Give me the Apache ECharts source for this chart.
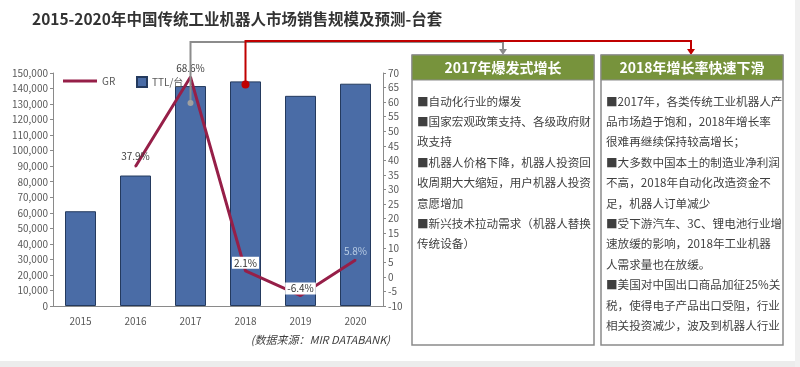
<!DOCTYPE html>
<html><head><meta charset="utf-8">
<script src="https://cdn.jsdelivr.net/npm/echarts@6/dist/echarts.min.js"></script>
<style>html,body{margin:0;padding:0;background:#fff;}#c{width:800px;height:367px;}</style>
</head><body><div id="c"></div>
<script>
const titleText = '2015-2020年中国传统工业机器人市场销售规模及预测-台套';
const years = ['2015','2016','2017','2018','2019','2020'];
const ttl = [61000, 84000, 141600, 144600, 135300, 143100];
const gr = [null, 37.9, 68.6, 2.1, -6.4, 5.8];
const grLabels = ['', '37.9%', '68.6%', '2.1%', '-6.4%', '5.8%'];
const box1Title = '2017年爆发式增长';
const box1Lines = [
  '■自动化行业的爆发',
  '■国家宏观政策支持、各级政府财',
  '政支持',
  '■机器人价格下降，机器人投资回',
  '收周期大大缩短，用户机器人投资',
  '意愿增加',
  '■新兴技术拉动需求（机器人替换',
  '传统设备）'
];
const box2Title = '2018年增长率快速下滑';
const box2Lines = [
  '■2017年，各类传统工业机器人产',
  '品市场趋于饱和，2018年增长率',
  '很难再继续保持较高增长；',
  '■大多数中国本土的制造业净利润',
  '不高，2018年自动化改造资金不',
  '足，机器人订单减少',
  '■受下游汽车、3C、锂电池行业增',
  '速放缓的影响，2018年工业机器',
  '人需求量也在放缓。',
  '■美国对中国出口商品加征25%关',
  '税，使得电子产品出口受阻，行业',
  '相关投资减少，波及到机器人行业'
];
const sourceText = '(数据来源：MIR DATABANK)';

const FONT = '"Noto Sans CJK SC", "Noto Sans", sans-serif';
const chart = echarts.init(document.getElementById('c'));

function box(x, w, title, lines) {
  return [
    {type:'rect', shape:{x:x, y:55, width:w, height:290}, style:{fill:'#fff', stroke:'#8a8a8a', lineWidth:1.5}, z:10},
    {type:'rect', shape:{x:x, y:55, width:w, height:25}, style:{fill:'#77933c', stroke:'#8a8a8a', lineWidth:1}, z:11},
    {type:'text', x:x + w/2, y:67.5, style:{text:title, fill:'#fff', font:'bold 14px ' + FONT, textAlign:'center', textVerticalAlign:'middle'}, z:12},
    {type:'text', x:x + 5, y:91, style:{text:lines.join('\n'), fill:'#3f3f3f', font:'11.6px ' + FONT, lineHeight:20.4, textVerticalAlign:'top'}, z:12}
  ];
}

const grData = gr.map((v, i) => {
  const d = {value:v};
  if (i === 1) d.label = {distance:4};
  if (i === 2) d.label = {distance:3};
  if (i === 3) d.label = {distance:1, backgroundColor:'#fff', padding:[1,2], color:'#333'};
  if (i === 4) d.label = {distance:0, backgroundColor:'#fff', padding:[1,2], color:'#333'};
  if (i === 5) d.label = {distance:3, color:'#b8cce4'};
  return d;
});

const option = {
  backgroundColor:'#fff',
  animation:false,
  textStyle:{fontFamily:FONT},
  title:{text:titleText, left:27, top:6, textStyle:{fontSize:15.5, fontWeight:'bold', color:'#333', fontFamily:FONT}},
  legend:[
    {data:['GR'], left:58, top:71, itemWidth:34, itemHeight:3, icon:'rect', itemGap:6, textStyle:{fontSize:10, color:'#595959'}},
    {data:['TTL/台'], left:131, top:71, itemWidth:10, itemHeight:10, icon:'rect', textStyle:{fontSize:10, color:'#595959'}}
  ],
  grid:{left:53, right:417, top:73, bottom:61},
  xAxis:{type:'category', data:years, axisLine:{lineStyle:{color:'#8a8a8a'}}, axisTick:{show:false},
    axisLabel:{fontSize:10, color:'#595959', margin:10}},
  yAxis:[
    {type:'value', min:0, max:150000, interval:10000, splitLine:{show:false},
      axisLine:{show:true, lineStyle:{color:'#8a8a8a'}}, axisTick:{show:true, length:3, lineStyle:{color:'#8a8a8a'}},
      axisLabel:{fontSize:10, color:'#595959', margin:5, formatter:v => v.toLocaleString('en-US')}},
    {type:'value', min:-10, max:70, interval:5, splitLine:{show:false}, position:'right',
      axisLine:{show:true, lineStyle:{color:'#8a8a8a'}}, axisTick:{show:true, length:3, lineStyle:{color:'#8a8a8a'}},
      axisLabel:{fontSize:10, color:'#595959', margin:5}}
  ],
  series:[
    {name:'TTL/台', type:'bar', data:ttl, barWidth:31, yAxisIndex:0,
      itemStyle:{color:'#4a6ca6', borderColor:'#243a5e', borderWidth:1}, z:2},
    {name:'GR', type:'line', yAxisIndex:1, data:grData, symbol:'circle', symbolSize:2, showSymbol:true,
      lineStyle:{color:'#961f48', width:3}, itemStyle:{color:'#961f48'}, z:3,
      label:{show:true, position:'top', fontSize:10, color:'#404040',
        formatter:p => grLabels[p.dataIndex]},
      labelLayout:{hideOverlap:false}
    }
  ]
};
chart.setOption(option);

const p17 = chart.convertToPixel({seriesIndex:0}, ['2017', ttl[2]]);
const p18 = chart.convertToPixel({seriesIndex:0}, ['2018', ttl[3]]);
const gx = p17[0], rx = p18[0];
const g = [
  {type:'rect', shape:{x:0, y:361, width:800, height:6}, style:{fill:'#ececec'}, z:0},
  {type:'rect', shape:{x:795, y:0, width:5, height:367}, style:{fill:'#f0f0f0'}, z:0},
  {type:'polyline', shape:{points:[[gx, p17[1] + 17], [gx, 42], [503, 42], [503, 50]]}, style:{stroke:'#8c8c8c', lineWidth:2, fill:null}, z:5},
  {type:'polygon', shape:{points:[[499, 49], [507, 49], [503, 55]]}, style:{fill:'#8c8c8c'}, z:5},
  {type:'circle', shape:{cx:gx, cy:p17[1] + 17, r:3}, style:{fill:'#a0a0a0'}, z:5},
  {type:'polyline', shape:{points:[[rx, p18[1] + 2], [rx, 41], [691, 41], [691, 50]]}, style:{stroke:'#c00000', lineWidth:2, fill:null}, z:6},
  {type:'polygon', shape:{points:[[687, 49], [695, 49], [691, 55]]}, style:{fill:'#c00000'}, z:6},
  {type:'circle', shape:{cx:rx, cy:p18[1] + 3, r:4}, style:{fill:'#c00000'}, z:6},
  {type:'text', x:390, y:340, style:{text:sourceText, fill:'#404040', font:'italic 11px ' + FONT, textAlign:'right', textVerticalAlign:'middle'}, z:5}
].concat(box(412, 182, box1Title, box1Lines), box(601, 182, box2Title, box2Lines));
chart.setOption({graphic:g});
</script></body></html>
